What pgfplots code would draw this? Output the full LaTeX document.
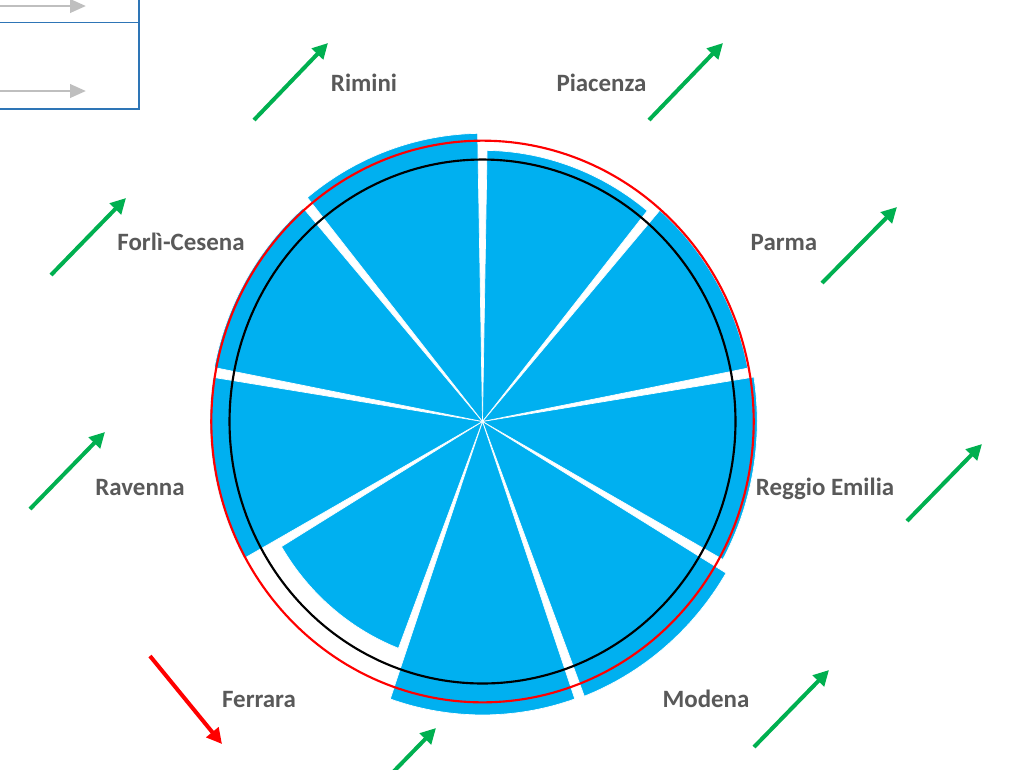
\documentclass[border=0pt]{standalone}
\usepackage{pgfplots}
\pgfplotsset{compat=1.18}
\usetikzlibrary{arrows.meta}
\usepackage{fontspec}
\setmainfont{Carlito}
\definecolor{sky}{HTML}{00B0F0}
\definecolor{lblgray}{HTML}{595959}
\definecolor{agreen}{HTML}{00B050}
\definecolor{ared}{HTML}{FF0000}
\definecolor{legblue}{HTML}{2E75B6}
\definecolor{lgray}{HTML}{BFBFBF}
% centre of the rose (pixels) and pixels per unit of radius (100 = black circle)
\def\cx{482.5}\def\cy{421.5}\def\sx{2.53}\def\sy{2.62}
% sector: start angle, end angle (clockwise from north), radius value
\newcommand\sector[3]{%
  \addplot[fill=sky, draw=white, line width=0.5pt, domain=#1:#2, samples=40]
    ({\cx+\sx*#3*sin(x)},{\cy-\sy*#3*cos(x)}) -- (axis cs:\cx,\cy) -- cycle;}
\newcommand\ring[3]{%
  \addplot[draw=#2, line width=#3, domain=0:360, samples=241]
    ({\cx+\sx*#1*sin(x)},{\cy-\sy*#1*cos(x)});}
\tikzset{
  lbl/.style={anchor=base, font=\fontsize{18.7}{22}\selectfont\bfseries, text=lblgray, inner sep=0pt},
  garrow/.style={draw=agreen, line width=3pt, -{Triangle[length=11.5pt,width=11.5pt]}},
  rarrow/.style={draw=ared, line width=3pt, -{Triangle[length=11.5pt,width=11.5pt]}},
  larrow/.style={draw=lgray, line width=2.2pt, -{Triangle[length=12pt,width=10pt]}},
}
\begin{document}
\begin{tikzpicture}
\useasboundingbox (0,0) rectangle (765pt,576.75pt);
\clip (0,0) rectangle (765pt,576.75pt);
\begin{axis}[at={(0,0)}, anchor=south west, scale only axis,
  width=765pt, height=576.75pt, xmin=0, xmax=1020, ymin=0, ymax=769,
  y dir=reverse, hide axis, clip=false]
% sectors (clockwise from north)
\sector{1}{39}{103.5}    % Piacenza
\sector{41}{79}{106.8}   % Parma
\sector{81}{119}{108.6}  % Reggio Emilia
\sector{121}{159}{112.3} % Modena
\sector{161}{199}{112.0} % Bologna
\sector{201}{239}{92.7}  % Ferrara
\sector{241}{279}{107.7} % Ravenna
\sector{281}{319}{108.0} % Forli-Cesena
\sector{321}{359}{110.0} % Rimini
% reference circles
\ring{100}{black}{1.6pt}
\ring{107.2}{ared}{1.6pt}
% legend box (partly outside the picture)
\addplot[draw=legblue, line width=1.4pt] coordinates {(-30,-30) (139,-30) (139,109) (-30,109)};
\addplot[draw=legblue, line width=1.4pt] coordinates {(-30,22.5) (139,22.5)};
\addplot[larrow] coordinates {(-20,6) (86,6)};
\addplot[larrow] coordinates {(-20,91) (86,91)};
% trend arrows
\addplot[garrow] coordinates {(254,120) (328,43)};   % Rimini
\addplot[garrow] coordinates {(649,120) (723,43)};   % Piacenza
\addplot[garrow] coordinates {(822,283) (897,207)};  % Parma
\addplot[garrow] coordinates {(51,275) (126,198)};   % Forli-Cesena
\addplot[garrow] coordinates {(907,521) (982,444)};  % Reggio Emilia
\addplot[garrow] coordinates {(30,509) (105,432)};   % Ravenna
\addplot[rarrow] coordinates {(150,656) (222,744)};  % Ferrara
\addplot[garrow] coordinates {(361,805) (436,728)};  % Bologna
\addplot[garrow] coordinates {(754,747) (829,670)};  % Modena
% labels
\node[lbl] at (axis cs:364,91.5) {Rimini};
\node[lbl] at (axis cs:601.5,91.5) {Piacenza};
\node[lbl] at (axis cs:784,250.5) {Parma};
\node[lbl] at (axis cs:181,250.5) {Forlì-Cesena};
\node[lbl] at (axis cs:825,495) {Reggio Emilia};
\node[lbl] at (axis cs:140,495) {Ravenna};
\node[lbl] at (axis cs:259,707.5) {Ferrara};
\node[lbl] at (axis cs:706,707.5) {Modena};
\end{axis}
\end{tikzpicture}
\end{document}
